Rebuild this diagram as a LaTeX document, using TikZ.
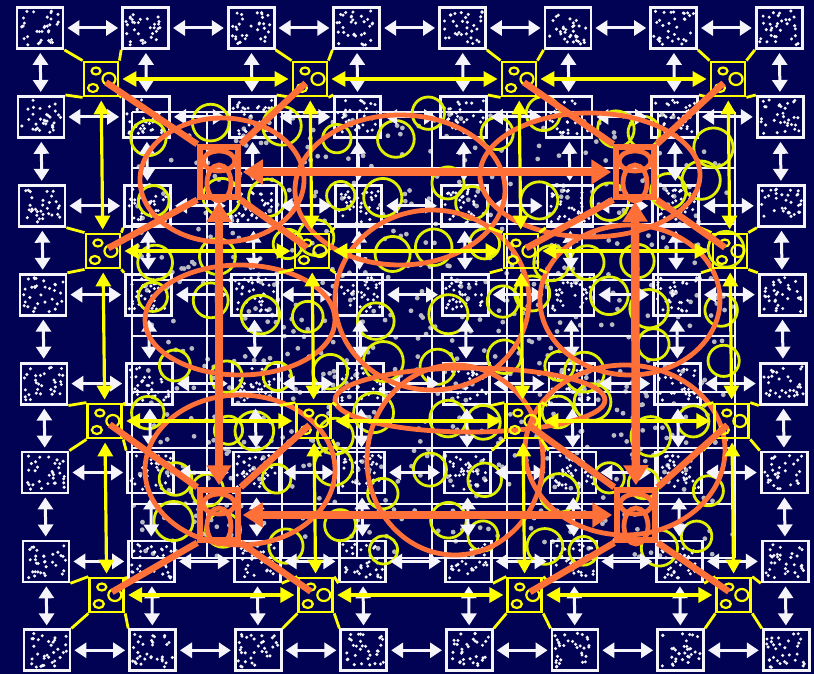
\documentclass[tikz,border=0pt]{standalone}
\usetikzlibrary{arrows.meta}
\definecolor{bgnavy}{RGB}{2,2,84}
\definecolor{wline}{RGB}{244,244,250}
\definecolor{ylw}{RGB}{255,255,0}
\definecolor{circy}{RGB}{225,240,0}
\definecolor{orng}{RGB}{255,112,56}
\definecolor{gdot}{RGB}{185,185,195}
\tikzset{
  cellbox/.style={draw=wline, line width=2.8pt, minimum width=46pt, minimum height=41pt, inner sep=0pt},
  warrow/.style={draw=wline, line width=3pt, {Triangle[length=12pt,width=15pt]}-{Triangle[length=12pt,width=15pt]}, shorten <=3pt, shorten >=3pt},
  ybox/.style={draw=ylw, line width=2.8pt, minimum size=34pt, inner sep=0pt},
  yline/.style={draw=ylw, line width=2.8pt},
  ysmall/.style={draw=ylw, line width=2.2pt},
  yarrow/.style={draw=ylw, line width=3.2pt, {Triangle[length=14pt,width=15pt]}-{Triangle[length=14pt,width=15pt]}, shorten <=3pt, shorten >=3pt},
  obox/.style={draw=orng, line width=5.5pt, minimum width=38pt, minimum height=50pt, inner sep=0pt},
  oline/.style={draw=orng, line width=6.5pt, shorten >=6pt},
  oarrow/.style={draw=orng, line width=8.5pt, {Triangle[length=20pt,width=24pt]}-{Triangle[length=20pt,width=24pt]}, shorten <=2pt, shorten >=2pt},
  oring/.style={draw=orng, line width=4.8pt},
  yring/.style={draw=circy, line width=2.8pt},
  gridline/.style={draw=wline, line width=2.8pt},
}
\begin{document}
\begin{tikzpicture}[x=1pt,y=-1pt]
\fill[bgnavy] (0,0) rectangle (814,674);
\useasboundingbox (0,0) rectangle (814,674);
\pgfmathsetseed{7}
% grey dot field of the central layer
\foreach \k in {1,...,700} {
  \pgfmathsetmacro\gx{433+300*rand}
  \pgfmathsetmacro\gy{335+222*rand}
  \fill[gdot] (\gx,\gy) circle (2.4);
}
% central grid lines
\foreach \yy in {112,168,224,280,336,392,448,504,558}
  \draw[gridline] (132,\yy) -- (735,\yy);
\foreach \xx in {132,207,282,357,432,507,582,658,735}
  \draw[gridline] (\xx,112) -- (\xx,558);
% level 1: white cells
\foreach \ri in {0,...,7} {
  \foreach \ci in {0,...,7} {
    \pgfmathsetmacro\bx{40+105.6*\ci+\ri}
    \pgfmathsetmacro\by{28+88.9*\ri}
    \node[cellbox] (w\ri\ci) at (\bx,\by) {};
    \foreach \k in {1,...,32} {
      \pgfmathsetmacro\dx{\bx+20*rand}
      \pgfmathsetmacro\dy{\by+17*rand}
      \fill[wline] (\dx,\dy) circle (1.7);
    }
  }
}
% yellow circles of the central layer
\foreach \i in {0,...,10} {
  \foreach \j in {0,...,7} {
    \pgfmathsetmacro\cx{160+55*\i+18*rand}
    \pgfmathsetmacro\cy{130+58*\j+18*rand}
    \pgfmathsetmacro\cr{17+3*rand}
    \draw[yring] (\cx,\cy) circle (\cr);
  }
}
% white arrows
\foreach \ri in {0,...,7} {
  \foreach \ci in {0,...,6} {
    \pgfmathtruncatemacro\nx{\ci+1}
    \draw[warrow] (w\ri\ci) -- (w\ri\nx);
    \draw[warrow] (w\ci\ri) -- (w\nx\ri);
  }
}
% orange rings
\draw[oring] (222,180) ellipse (82 and 62);
\draw[oring] (400,190) ellipse (105 and 75);
\draw[oring] (590,175) ellipse (110 and 62);
\draw[oring] (240,320) ellipse (95 and 55);
\draw[oring] (630,300) ellipse (90 and 75);
\draw[oring] (432,300) ellipse (97 and 90);
\draw[oring] (470,400) ellipse (135 and 32);
\draw[oring] (240,470) ellipse (95 and 75);
\draw[oring] (455,460) ellipse (88 and 95);
\draw[oring] (625,450) ellipse (100 and 85);
% level 2: yellow nodes
\foreach \ri/\yy in {0/79,1/251,2/421,3/595} {
  \foreach \ci in {0,...,3} {
    \pgfmathsetmacro\yx{101+209*\ci+(\yy-79)/88.9}
    \node[ybox] (y\ri\ci) at (\yx,\yy) {};
    \draw[ysmall] (\yx-5,\yy-8) ellipse (4.5 and 3.5);
    \draw[ysmall] (\yx+8,\yy) ellipse (6.5 and 6);
    \draw[ysmall] (\yx-8,\yy+9) ellipse (5 and 4);
  }
}
\foreach \ri in {0,...,3} {
  \foreach \ci in {0,...,3} {
    \pgfmathtruncatemacro\ra{2*\ri}
    \pgfmathtruncatemacro\rb{2*\ri+1}
    \pgfmathtruncatemacro\ca{2*\ci}
    \pgfmathtruncatemacro\cb{2*\ci+1}
    \draw[yline] (y\ri\ci.north west) -- (w\ra\ca.south east);
    \draw[yline] (y\ri\ci.north east) -- (w\ra\cb.south west);
    \draw[yline] (y\ri\ci.south west) -- (w\rb\ca.north east);
    \draw[yline] (y\ri\ci.south east) -- (w\rb\cb.north west);
  }
}
\foreach \ri in {0,...,3} {
  \foreach \ci in {0,...,2} {
    \pgfmathtruncatemacro\nx{\ci+1}
    \draw[yarrow] (y\ri\ci) -- (y\ri\nx);
    \draw[yarrow] (y\ci\ri) -- (y\nx\ri);
  }
}
% level 3: orange nodes
\node[obox] (o00) at (219,172) {};
\node[obox] (o01) at (635,172) {};
\node[obox] (o10) at (219,515) {};
\node[obox] (o11) at (636,515) {};
\foreach \ri in {0,1} {
  \foreach \ci in {0,1} {
    \pgfmathtruncatemacro\ra{2*\ri}
    \pgfmathtruncatemacro\rb{2*\ri+1}
    \pgfmathtruncatemacro\ca{2*\ci}
    \pgfmathtruncatemacro\cb{2*\ci+1}
    \draw[oline] (o\ri\ci.north west) -- (y\ra\ca.center);
    \draw[oline] (o\ri\ci.north east) -- (y\ra\cb.center);
    \draw[oline] (o\ri\ci.south west) -- (y\rb\ca.center);
    \draw[oline] (o\ri\ci.south east) -- (y\rb\cb.center);
    \draw[oring] ([yshift=11pt]o\ri\ci.center) ellipse (16 and 10);
    \draw[oring] ([yshift=-11pt]o\ri\ci.center) ellipse (12 and 18);
  }
}
\draw[oarrow] (o00) -- (o01);
\draw[oarrow] (o10) -- (o11);
\draw[oarrow] (o00) -- (o10);
\draw[oarrow] (o01) -- (o11);
\end{tikzpicture}
\end{document}
